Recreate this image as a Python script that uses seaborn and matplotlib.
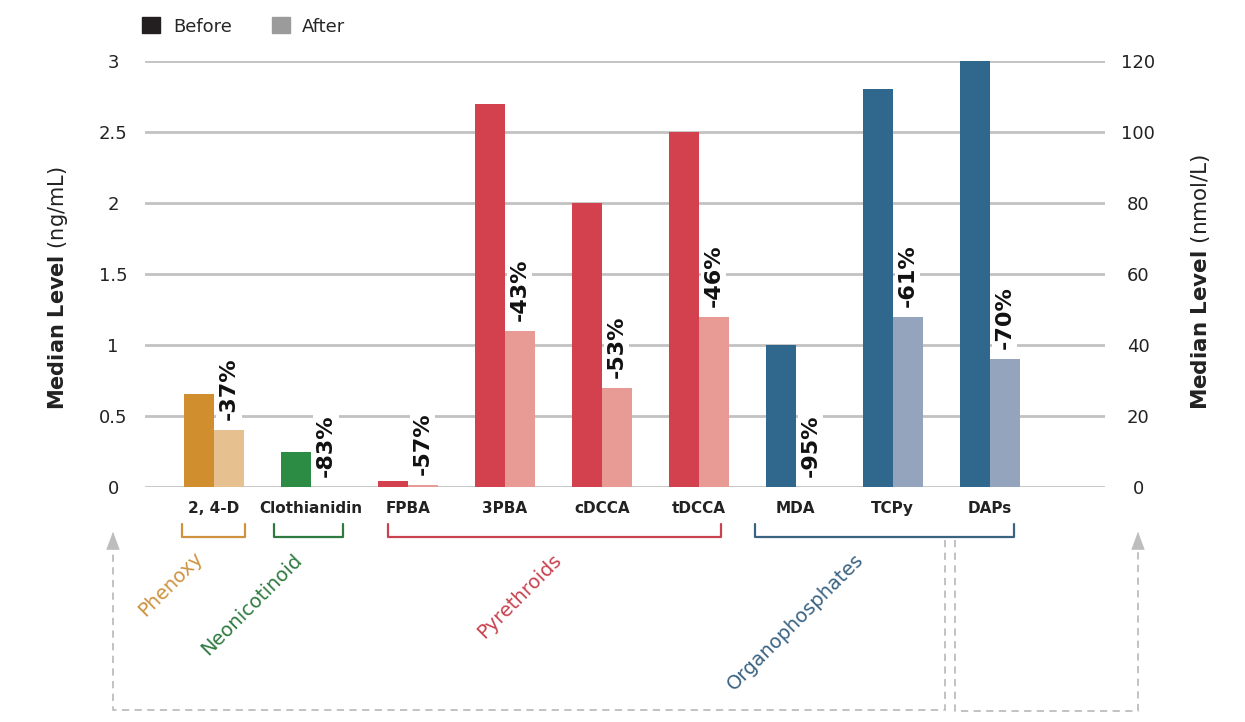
import numpy as np
import pandas as pd
import seaborn as sns
import matplotlib.pyplot as plt
import matplotlib.transforms as mtransforms
from matplotlib.lines import Line2D
from matplotlib.patches import Patch

sns.set_style("white")
plt.rcParams['font.family'] = ['DejaVu Sans']
plt.rcParams['mathtext.fontset'] = 'dejavusans'

# data
compounds = ['2, 4-D', 'Clothianidin', 'FPBA', '3PBA', 'cDCCA', 'tDCCA', 'MDA', 'TCPy', 'DAPs']
compound_class = ['Phenoxy', 'Neonicotinoid', 'Pyrethroids', 'Pyrethroids', 'Pyrethroids',
                  'Pyrethroids', 'Organophosphates', 'Organophosphates', 'Organophosphates']
units = ['ng/mL'] * 8 + ['nmol/L']
before = [0.655, 0.25, 0.04, 2.70, 2.0, 2.5, 1.0, 2.8, 120]
after = [0.40, 0.0, 0.017, 1.1, 0.70, 1.2, 0.0, 1.2, 36]
changes = ['-37%', '-83%', '-57%', '-43%', '-53%', '-46%', '-95%', '-61%', '-70%']

left_ticks = [0, 0.5, 1, 1.5, 2, 2.5, 3]
left_ticklabels = ['0', '0.5', '1', '1.5', '2', '2.5', '3']
right_ticks = [0, 20, 40, 60, 80, 100, 120]

classes = ['Phenoxy', 'Neonicotinoid', 'Pyrethroids', 'Organophosphates']
before_colors = {'Phenoxy': '#D08E2E', 'Neonicotinoid': '#2C8C44',
                 'Pyrethroids': '#D3404E', 'Organophosphates': '#2F678D'}
after_colors = {'Phenoxy': '#E6C08E', 'Neonicotinoid': '#8FC59B',
                'Pyrethroids': '#E89A95', 'Organophosphates': '#93A4BC'}
label_colors = {'Phenoxy': '#CF923E', 'Neonicotinoid': '#2F7A40',
                'Pyrethroids': '#C8434F', 'Organophosphates': '#3A6382'}

# bracket extents and label spots (layout, in category units / axes fraction)
bracket_span = {'Phenoxy': (-0.33, 0.32), 'Neonicotinoid': (0.62, 1.33),
                'Pyrethroids': (1.80, 5.23), 'Organophosphates': (5.58, 8.25)}
label_spot = {'Phenoxy': (-0.45, -0.228), 'Neonicotinoid': (0.39, -0.275),
              'Pyrethroids': (3.15, -0.256), 'Organophosphates': (6.0, -0.317)}

df = pd.DataFrame({
    'compound': compounds * 2,
    'period': ['Before'] * len(compounds) + ['After'] * len(compounds),
    'value': before + after,
    'unit': units * 2,
})

W, H = 1245, 722
fig = plt.figure(figsize=(W / 100, H / 100), dpi=100)
ax = fig.add_axes([145 / W, 1 - 487 / H, 960 / W, 426 / H])
ax2 = ax.twinx()

for a, unit in [(ax, 'ng/mL'), (ax2, 'nmol/L')]:
    sns.barplot(data=df[df.unit == unit], x='compound', y='value', hue='period',
                order=compounds, hue_order=['Before', 'After'], width=0.62,
                saturation=1, legend=False, ax=a)

# recolour bars by compound class, remember after-bar centres
after_x = {}
for a in [ax, ax2]:
    for k, cont in enumerate(a.containers):
        for bar in cont:
            cx = bar.get_x() + bar.get_width() / 2
            i = int(round(cx))
            cls = compound_class[i]
            bar.set_facecolor(before_colors[cls] if k == 0 else after_colors[cls])
            bar.set_edgecolor('none')
            if k == 1:
                after_x[i] = cx

for i, txt in enumerate(changes):
    a = ax2 if units[i] == 'nmol/L' else ax
    a.annotate(txt, xy=(after_x.get(i, i + 0.155), after[i]), xytext=(0, 7),
               textcoords='offset points', rotation=90, ha='center', va='bottom',
               fontsize=16, fontweight='bold', color='#111111',
               bbox=dict(boxstyle='square,pad=0.12', fc='white', ec='none'))

ax.set_xlim(-0.71, 9.19)
ax.set_ylim(0, 3)
ax2.set_ylim(0, 120)
ax.set_yticks(left_ticks)
ax.set_yticklabels(left_ticklabels)
ax2.set_yticks(right_ticks)
ax.yaxis.grid(True, color='#C2C2C2', lw=2)
ax.set_axisbelow(True)
for a in [ax, ax2]:
    for s in a.spines.values():
        s.set_visible(False)
    a.set_xlabel('')
    a.set_ylabel('')
ax.tick_params(axis='y', length=0, labelsize=13, pad=23, labelcolor='#222222')
for t in ax.get_yticklabels():
    t.set_horizontalalignment('center')
ax2.tick_params(axis='y', length=0, labelsize=13, pad=24, labelcolor='#222222')
for t in ax2.get_yticklabels():
    t.set_horizontalalignment('center')
ax.tick_params(axis='x', length=0, pad=10)
ax.set_xticks(range(len(compounds)))
ax.set_xticklabels(compounds, fontsize=11, fontweight='bold', color='#222222')

fig.text(58 / W, 1 - 410 / H, r'$\bf{Median\ Level}$ (ng/mL)', rotation=90,
         ha='center', va='bottom', fontsize=15, color='#222222')
fig.text(1200 / W, 1 - 410 / H, r'$\bf{Median\ Level}$ (nmol/L)', rotation=90,
         ha='center', va='bottom', fontsize=15.5, color='#222222')

# class brackets and labels under the axis
trans = mtransforms.blended_transform_factory(ax.transData, ax.transAxes)
for cls in classes:
    x0, x1 = bracket_span[cls]
    ax.plot([x0, x0, x1, x1], [-0.087, -0.117, -0.117, -0.087], color=label_colors[cls],
            lw=1.6, transform=trans, clip_on=False)
    lx, ly = label_spot[cls]
    ax.text(lx, ly, cls, transform=trans, rotation=45, rotation_mode='anchor',
            ha='center', va='center', fontsize=14, color=label_colors[cls])

# dashed guide arrows to the two axes
guide = '#BDBDBD'
paths = [[(945, 540), (945, 710), (113, 710), (113, 545)],
         [(955, 540), (955, 711), (1138, 711), (1138, 545)]]
for p in paths:
    xs = [q[0] / W for q in p]
    ys = [1 - q[1] / H for q in p]
    fig.add_artist(Line2D(xs, ys, transform=fig.transFigure, color=guide, lw=1.3,
                          linestyle=(0, (4, 3))))
    ax.annotate('', xy=(p[-1][0], H - 529), xytext=(p[-1][0], H - 549),
                xycoords='figure pixels', textcoords='figure pixels',
                arrowprops=dict(arrowstyle='-|>,head_length=1.2,head_width=0.45',
                                color=guide, lw=0.5))

handles = [Patch(color='#231F20', label='Before'), Patch(color='#9B9B9B', label='After')]
fig.legend(handles=handles, loc='upper left', bbox_to_anchor=(126 / W, 1 - 1 / H), ncol=2,
           frameon=False, fontsize=13, handlelength=1.0, handleheight=1.0,
           handletextpad=0.7, columnspacing=2.2)

fig.savefig('out.png', dpi=100)
